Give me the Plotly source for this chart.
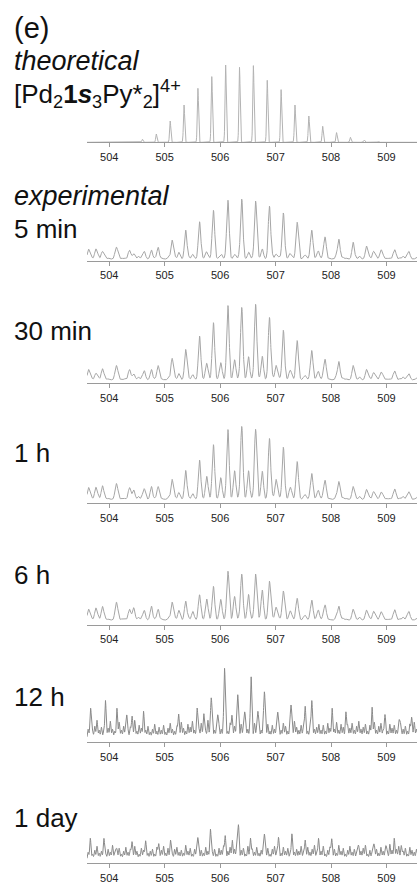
import numpy as np
import plotly.graph_objects as go

# ---------------- data ----------------
X_MIN, X_MAX = 503.6, 509.55
tick_vals = [504, 505, 506, 507, 508, 509]
time_labels = ["5 min", "30 min", "1 h", "6 h", "12 h", "1 day"]

# theoretical isotope pattern (m/z, intensity)
theo_mz = [504.10, 504.35, 504.60, 504.85, 505.10, 505.35, 505.60, 505.85, 506.10, 506.35,
           506.60, 506.85, 507.10, 507.35, 507.60, 507.85, 508.10, 508.35, 508.60, 508.85, 509.10]
theo_int = [0.3, 0.7, 3, 8.3, 21.3, 37.3, 54, 65.7, 77.3, 75,
            76.7, 62, 52.7, 37.3, 26.3, 16, 9.7, 5, 2.3, 1, 0.7]

# experimental peak positions (shared by 5 min .. 6 h)
exp_mz = [503.63, 503.76, 503.88, 504.13, 504.37, 504.44, 504.63, 504.76, 504.88, 505.135,
          505.26, 505.38, 505.51, 505.63, 505.76, 505.88, 506.01, 506.14, 506.26, 506.39,
          506.51, 506.64, 506.76, 506.89, 507.01, 507.14, 507.27, 507.39, 507.52, 507.65,
          507.77, 507.89, 508.14, 508.40, 508.64, 508.77, 508.90, 509.15, 509.40]
int_5min = [11, 12, 9, 13, 10, 7, 9, 9, 11, 20, 6, 30, 6, 38, 8, 50, 6, 59, 6, 61,
            6, 58, 11, 53, 6, 48, 6, 38, 5, 29, 10, 23, 21, 17, 14, 9, 11, 11, 9]
int_30min = [13, 10, 14, 17, 13, 9, 12, 12, 15, 24, 7, 33, 8, 46, 19, 60, 20, 76, 23, 75,
             24, 77, 26, 64, 17, 53, 12, 42, 7, 31, 12, 23, 21, 16, 13, 10, 11, 12, 9]
int_1h = [15, 16, 17, 19, 15, 13, 14, 15, 14, 23, 8, 32, 9, 42, 26, 58, 25, 72, 32, 76,
          30, 72, 31, 63, 23, 56, 15, 41, 8, 28, 13, 22, 21, 15, 13, 11, 11, 14, 11]
int_6h = [15, 17, 18, 22, 15, 17, 14, 17, 13, 22, 12, 23, 13, 29, 25, 38, 25, 52, 28, 50,
          28, 49, 34, 42, 17, 34, 13, 26, 9, 23, 15, 19, 18, 14, 14, 13, 13, 15, 13]
exp_base = [2, 3.5, 4, 5]
low_noise = [1, 2, 0, 3, 1, 2, 1, 0, 2, 3, 1, 1, 2, 0, 1, 3, 2, 1, 0, 2,
             1, 3, 1, 0, 2, 1, 2, 3, 0, 1, 2, 1, 0, 2, 1, 3, 1, 2, 0, 1,
             2, 1, 3, 0, 1, 2, 1, 0, 3, 1, 2, 1, 1, 0, 2, 3, 1, 2, 0, 1,
             3, 1, 2, 1, 0, 2, 1, 3, 1, 0, 2, 2, 1, 0, 3, 1, 2, 1, 0, 2,
             1, 3, 0, 1, 2, 1, 2, 0, 3, 1, 1, 2, 0, 1, 3, 2, 1, 0, 2]

# 12 h
mz_12h = [503.67, 503.93, 504.14, 504.32, 504.41, 504.62, 505.25, 505.59, 505.71, 505.84,
          505.96, 506.08, 506.21, 506.32, 506.44, 506.56, 506.68, 506.80, 507.04, 507.28,
          507.53, 507.65, 508.02, 508.27, 508.74, 508.97, 509.24, 509.45]
int_12h = [27, 36, 26, 27, 24, 21, 27, 29, 24, 44,
           26, 72, 24, 46, 29, 66, 31, 49, 29, 37,
           29, 34, 27, 30, 30, 24, 21, 22]
noise_12h = [10, 16, 8, 13, 19, 9, 12, 7, 15, 11, 18, 10, 8, 14, 17, 9, 13, 16, 7, 12,
             10, 19, 8, 14, 11, 16, 9, 13, 7, 10, 15, 8, 12, 9, 14, 7, 11, 16, 10, 8,
             13, 9, 17, 11, 8, 15, 12, 18, 9, 14, 10, 16, 13, 8, 19, 11, 15, 9, 17, 12,
             10, 14, 18, 8, 16, 11, 13, 20, 9, 15, 12, 17, 10, 14, 8, 16, 11, 13, 9, 18,
             12, 15, 8, 14, 10, 17, 11, 9, 16, 13, 8, 15, 10, 18, 12, 9, 14, 11, 16, 8,
             13, 17, 10, 12, 15, 9, 14, 8, 16, 11, 13, 10, 17, 9, 15, 12, 8, 14, 11, 16,
             9, 13, 18, 10, 12, 15, 8, 14, 11, 17, 9, 13, 16, 10, 12, 8, 15, 11, 14, 9,
             16, 12, 10, 13, 8, 15, 11, 17, 10]

# 1 day
mz_1day = [503.66, 503.91, 504.12, 504.41, 504.65, 504.89, 505.11, 505.60, 505.83, 506.09,
           506.22, 506.33, 506.55, 506.80, 507.05, 507.29, 507.53, 507.77, 508.01, 508.48,
           508.76, 509.00, 509.14, 509.27]
int_1day = [18, 19, 15, 21, 14, 18, 21, 25, 26, 27,
            20, 38, 23, 28, 23, 22, 20, 20, 23, 16,
            17, 17, 22, 17]
noise_1day = [8, 12, 6, 10, 14, 7, 9, 13, 6, 11, 8, 15, 7, 10, 12, 6, 9, 13, 8, 11,
              7, 14, 9, 6, 12, 10, 15, 7, 9, 11, 6, 13, 8, 10, 14, 7, 12, 9, 6, 11,
              13, 8, 10, 7, 15, 9, 12, 6, 11, 14, 8, 10, 7, 13, 9, 16, 8, 11, 6, 12,
              10, 14, 7, 9, 13, 8, 11, 15, 7, 10, 12, 6, 14, 9, 11, 8, 13, 7, 10, 15,
              9, 12, 6, 11, 14, 8, 10, 7, 13, 9, 12, 6, 15, 8, 11, 9, 14, 7, 10, 13,
              8, 11, 15, 7, 12, 9, 14, 6, 10, 13, 8, 11, 7, 15, 9, 12, 6, 10, 14, 8,
              11, 7, 13, 9, 12, 15, 6, 10, 8, 14, 11, 7, 13, 9, 12, 6, 16, 10, 8, 11,
              14, 7, 9, 12, 6, 13, 10, 8, 11]

# ---------------- rendering helpers ----------------
W, H = 417, 883
grid = np.linspace(X_MIN, X_MAX, 3000)


def peaks(mz, amp, sigma):
    y = np.zeros_like(grid)
    for m, a in zip(mz, amp):
        y += max(a, 0) * np.exp(-0.5 * ((grid - m) / sigma) ** 2)
    return y


def noise_profile(vals, sigma):
    pos = np.linspace(503.62, 509.54, len(vals))
    return peaks(pos, vals, sigma)


traces = []
theo_y = peaks(theo_mz, theo_int, 0.011)
traces.append((theo_y, "#b3b3b3"))
for ints, base in zip([int_5min, int_30min, int_1h, int_6h], exp_base):
    y = base + peaks(exp_mz, [v - base for v in ints], 0.022) + noise_profile(low_noise, 0.016)
    traces.append((y, "#a6a6a6"))
y12 = 3 + peaks(mz_12h, [v - 9 for v in int_12h], 0.011) + noise_profile(noise_12h, 0.012)
traces.append((y12, "#8a8a8a"))
y1d = 3 + peaks(mz_1day, [v - 8 for v in int_1day], 0.011) + noise_profile(noise_1day, 0.012)
traces.append((y1d, "#8a8a8a"))

baselines_px = [142.3, 261, 383.3, 503.3, 625, 742.3, 863.3]
PANEL_H = 90

fig = go.Figure()
layout = dict(
    width=W, height=H, margin=dict(l=0, r=0, t=0, b=0),
    paper_bgcolor="white", plot_bgcolor="white", showlegend=False,
    font=dict(family="Liberation Sans, Arial, sans-serif", color="#111"),
)
for i, ((y, col), b) in enumerate(zip(traces, baselines_px)):
    k = "" if i == 0 else str(i + 1)
    fig.add_trace(go.Scatter(x=grid, y=y, mode="lines", line=dict(color=col, width=1),
                             xaxis="x" + k, yaxis="y" + k, hoverinfo="skip"))
    layout["xaxis" + k] = dict(
        domain=[87 / W, 1], range=[X_MIN, X_MAX], anchor="y" + k,
        showline=True, linecolor="#9a9a9a", linewidth=1, showgrid=False, zeroline=False,
        tickmode="array", tickvals=tick_vals, ticktext=[str(t) for t in tick_vals],
        ticks="outside", ticklen=4, tickcolor="#9a9a9a", tickwidth=1,
        tickfont=dict(size=11, color="#222"), fixedrange=True,
    )
    layout["yaxis" + k] = dict(
        domain=[1 - b / H, 1 - (b - PANEL_H) / H], range=[0, PANEL_H], anchor="x" + k,
        visible=False, fixedrange=True,
    )

fs_title = 27
fs_time = 26
ann = [
    dict(text="(e)", y=28, size=29),
    dict(text="<i>theoretical</i>", y=61, size=fs_title),
    dict(text="[Pd<sub>2</sub><b>1</b><b><i>s</i></b><sub>3</sub>Py*<sub>2</sub>]<sup>4+</sup>",
         y=94, size=26),
    dict(text="<i>experimental</i>", y=196, size=fs_title),
]
time_y = [229, 331, 453, 575, 697, 818]
for lbl, ty in zip(time_labels, time_y):
    ann.append(dict(text=lbl, y=ty, size=fs_time))

layout["annotations"] = [
    dict(text=a["text"], x=12 / W, y=1 - a["y"] / H, xref="paper", yref="paper",
         xanchor="left", yanchor="middle", showarrow=False,
         font=dict(size=a["size"], color="#111", family="Liberation Sans, Arial, sans-serif"))
    for a in ann
]
fig.update_layout(**layout)
fig.write_html("out.html", config={"displayModeBar": False, "staticPlot": True},
               post_script="document.body.style.margin='0';")
